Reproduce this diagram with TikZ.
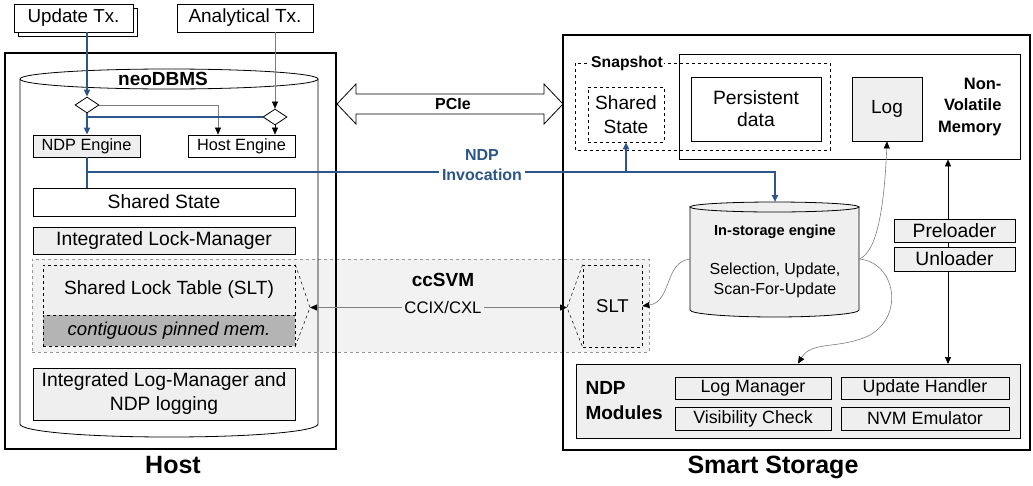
\documentclass[tikz,border=0pt]{standalone}
\usepackage{fontspec}
\setmainfont{Liberation Sans}
\usetikzlibrary{arrows.meta,shapes.geometric,calc}
\definecolor{ndpblue}{RGB}{44,86,135}
\definecolor{boxgray}{RGB}{239,239,239}
\definecolor{memgray}{RGB}{180,180,180}
\definecolor{svmfill}{RGB}{242,242,242}
\definecolor{svmline}{RGB}{150,150,150}
\definecolor{thingray}{RGB}{125,125,125}
\newcommand\fsz[2]{\fontsize{#1}{#2}\selectfont}
\begin{document}
\begin{tikzpicture}[x=1pt,y=-1pt,
  box/.style={draw, line width=0.8pt, inner sep=0pt, align=center, font=\fsz{19.3pt}{23pt}},
  gbox/.style={box, fill=boxgray},
  frame/.style={draw, line width=1.2pt, inner sep=0pt},
  dbox/.style={draw, dashed, line width=0.7pt, inner sep=0pt, align=center},
  ndpline/.style={draw=ndpblue, line width=2pt},
  ndparrow/.style={ndpline, -{Triangle[length=7pt,width=6pt,color=ndpblue]}},
  lightarrow/.style={draw=thingray, line width=0.6pt, -{Triangle[length=7pt,width=6pt,color=black]}},
  title/.style={font=\bfseries\fsz{25pt}{28pt}},
  blabel/.style={font=\bfseries\fsz{19pt}{21pt}, align=center, inner sep=1pt},
  split/.style={diamond, draw, line width=0.8pt, fill=white, inner sep=0pt, minimum width=24pt, minimum height=16pt}
]
\useasboundingbox (0,0) rectangle (1033,485);

% coherent shared virtual memory region
\node[draw=svmline, dashed, line width=0.7pt, fill=svmfill, minimum width=617pt, minimum height=93pt, inner sep=0pt] (svm) at (340.5,305.5) {};

% outer frames
\node[frame, minimum width=331pt, minimum height=396pt] (host) at (170.5,251) {};
\node[frame, minimum width=467pt, minimum height=415pt] (stor) at (796.5,242.5) {};
\node[title] (hostlbl) at (173,465) {Host};
\node[title] (storlbl) at (773,467) {Smart Storage};

% neoDBMS cylinder
\draw[line width=0.8pt] (169,79) ellipse [x radius=149, y radius=10];
\draw[line width=0.8pt] (20,79) -- (20,424) .. controls (20,431) and (80,437) .. (169,437)
  .. controls (258,437) and (318,431) .. (318,424) -- (318,79);
\node[blabel] (neo) at (163,79) {neoDBMS};

% transaction sources
\draw[line width=0.8pt, fill=white] (18,8) rectangle (137,36);
\node[box, fill=white, minimum width=119pt, minimum height=28pt, font=\fsz{18.8pt}{22pt}] (upd) at (73.5,18) {Update Tx.};
\node[box, minimum width=136pt, minimum height=28pt, font=\fsz{19pt}{22pt}] (ana) at (245,18) {Analytical Tx.};

% host engines
\node[split] (d1) at (87,105) {};
\node[split] (d2) at (275,117) {};
\node[gbox, minimum width=107pt, minimum height=22pt, font=\fsz{16.3pt}{19pt}] (ndpe) at (86.5,146) {NDP Engine};
\node[box, minimum width=107pt, minimum height=22pt, font=\fsz{16.3pt}{19pt}] (heng) at (241.5,146) {Host Engine};

\node[box, minimum width=262pt, minimum height=28pt] (hss) at (164,202) {Shared State};
\node[gbox, minimum width=262pt, minimum height=27pt] (ilm) at (164,240.5) {Integrated Lock-Manager};
\node[dbox, fill=boxgray, minimum width=252pt, minimum height=50pt, font=\fsz{19.1pt}{22pt}] (hslt) at (169,290) {Shared Lock Table (SLT)};
\node[dbox, fill=memgray, minimum width=252pt, minimum height=31pt, font=\itshape\fsz{18.6pt}{22pt}] (pin) at (169,330.5) {contiguous pinned mem.};
\node[gbox, minimum width=262pt, minimum height=52pt, font=\fsz{19.3pt}{24pt}] (ilog) at (164,394) {Integrated Log-Manager and\\NDP logging};

% routing of transactions
\draw[ndparrow] (d1.north |- upd.south) -- (d1.north);
\draw[lightarrow] (d2.north |- ana.south) -- (d2.north);
\draw[lightarrow] (d1.east) -| ([xshift=-23.5pt]heng.north);
\draw[ndpline] (d2.west) -- (d2.west -| d1.south);
\draw[ndparrow] (d1.south) -- (d1.south |- ndpe.north);
\draw[line width=0.6pt, -{Triangle[length=7pt,width=6pt]}] (d2.south) -- (d2.south |- heng.north);

% PCIe link
\draw[line width=0.8pt, fill=white] (337,104) -- (356,84) -- (356,94) -- (544,94) -- (544,84) -- (563,104)
  -- (544,124) -- (544,114) -- (356,114) -- (356,124) -- cycle;
\node[font=\bfseries\fsz{16pt}{18pt}] (pcie) at (453,104) {PCIe};

% non-volatile memory and snapshot
\node[box, minimum width=341pt, minimum height=105pt] (nvm) at (849.5,106.5) {};
\draw[dashed, line width=0.7pt] (575,63) rectangle (830,150);
\node[font=\bfseries\fsz{15.7pt}{18pt}, fill=white, inner sep=1.5pt] (snap) at (627,63) {Snapshot};
\node[dbox, minimum width=76pt, minimum height=55pt, font=\fsz{19.1pt}{24pt}] (sss) at (626,114.5) {Shared\\State};
\node[box, minimum width=130pt, minimum height=64pt, font=\fsz{19.3pt}{22pt}] (pdata) at (756,109) {Persistent\\data};
\node[gbox, minimum width=70pt, minimum height=64pt, font=\fsz{19pt}{22pt}] (log) at (887,109) {Log};
\node[font=\bfseries\fsz{16.5pt}{21.5pt}, align=right, anchor=east] (nvmlbl) at (1005,107) {Non-\\Volatile\\Memory};

% in-storage engine cylinder
\draw[line width=0.8pt, fill=boxgray] (690,207) -- (690,310) .. controls (690,314) and (730,317) .. (774.5,317)
  .. controls (819,317) and (859,314) .. (859,310) -- (859,207) -- cycle;
\draw[line width=0.8pt, fill=boxgray] (774.5,207) ellipse [x radius=84.5, y radius=5];
\coordinate (isetop) at (775,202);
\coordinate (iseleft) at (690,259);
\coordinate (iseright) at (859,259);
\node[font=\bfseries\fsz{14.6pt}{17pt}] (isename) at (775,232) {In-storage engine};
\node[font=\fsz{16pt}{20pt}, align=center] (iseops) at (775,280) {Selection, Update,\\Scan-For-Update};

% storage-side lock table
\node[dbox, fill=boxgray, minimum width=59pt, minimum height=82pt, font=\fsz{18.5pt}{22pt}] (sslt) at (612.5,306) {SLT};
\coordinate (lfun) at (310,307.5);
\coordinate (rfun) at (567,307.5);
\draw[dashed, line width=0.5pt] (hslt.north east) -- (lfun) -- (pin.south east);
\draw[dashed, line width=0.5pt] (sslt.north west) -- (rfun) -- (sslt.south west);
\draw[draw=thingray, line width=0.8pt, {Triangle[length=7pt,width=6pt,color=black]}-{Triangle[length=7pt,width=6pt,color=black]}] (lfun) -- (rfun);
\node[fill=svmfill, font=\fsz{16.7pt}{19pt}, inner sep=2pt] (ccix) at (443,308) {CCIX/CXL};
\node[blabel] (svmlbl) at (443,280) {ccSVM};

% NDP invocation
\coordinate (inv) at (87,172);
\draw[ndpline] (ndpe.south) -- (hss.north -| ndpe.south);
\draw[ndparrow] (inv) -| (isetop);
\draw[ndparrow] (sss.south |- inv) -- (sss.south);
\node[font=\bfseries\fsz{16pt}{20pt}, text=ndpblue, fill=white, align=center, inner sep=3pt] (invlbl) at (482,165) {NDP\\Invocation};

% preload / unload path
\draw[line width=0.7pt, {Triangle[length=7pt,width=6pt]}-{Triangle[length=7pt,width=6pt]}] ([xshift=98.5pt]nvm.south) -- ([xshift=98.5pt]nvm.south |- 0,364);
\node[gbox, minimum width=121pt, minimum height=23pt] (pre) at (954.5,230.5) {Preloader};
\node[gbox, minimum width=121pt, minimum height=24pt] (unl) at (954.5,259) {Unloader};

% NDP modules
\node[box, fill=boxgray, minimum width=444pt, minimum height=74pt] (mods) at (798,401) {};
\node[font=\bfseries\fsz{19pt}{25pt}, align=left, anchor=west] (modlbl) at (582,400.5) {NDP\\Modules};
\node[gbox, minimum width=156pt, minimum height=22pt, font=\fsz{17.8pt}{20pt}] (logm) at (753,388) {Log Manager};
\node[gbox, minimum width=156pt, minimum height=23pt, font=\fsz{17.8pt}{20pt}] (vis) at (753,418.5) {Visibility Check};
\node[gbox, minimum width=168pt, minimum height=22pt, font=\fsz{17.8pt}{20pt}] (uph) at (925,388) {Update Handler};
\node[gbox, minimum width=168pt, minimum height=23pt, font=\fsz{17.8pt}{20pt}] (emu) at (925,418.5) {NVM Emulator};

% engine data flows
\draw[lightarrow] (iseleft) .. controls (664,262) and (672,302) .. (sslt.east);
\draw[lightarrow] (iseright) .. controls (880,252) and (885,190) .. (log.south);
\draw[lightarrow] (iseright) .. controls (895,262) and (905,315) .. (870,335) .. controls (840,350) and (812,340) .. (mods.north);
\end{tikzpicture}
\end{document}
